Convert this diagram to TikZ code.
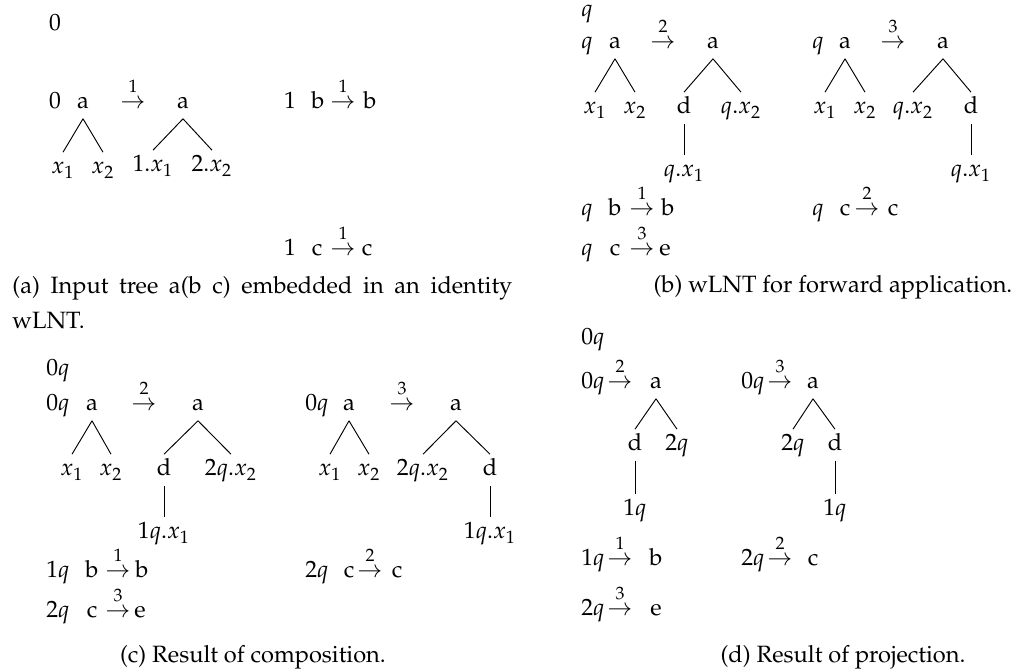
\documentclass[tikz,border=0pt]{standalone}
\usepackage[T1]{fontenc}
\usepackage{mathpazo}

\newcommand{\wto}[1]{\stackrel{\raisebox{1pt}{$\scriptstyle #1$}}{\rightarrow}}

\begin{document}
\begin{tikzpicture}[
    x=0.4237pt, y=-0.4237pt,
    font=\fontsize{10}{12}\selectfont,
    sym/.style={inner sep=1pt, text height=8pt, text depth=3pt},
    edge/.style={draw, line width=0.4pt},
    capt/.style={inner sep=0pt, font=\fontsize{10}{14.8}\selectfont}
]
    \useasboundingbox (0,0) rectangle (1028,670);

    % (a) identity wLNT
    \node[sym] (sA) at (55,25) {0};
    \node[sym] (qA) at (55,103) {0};
    \node[sym] (lA) at (83,103) {a};
    \node[sym] (tA) at (133,103) {$\wto{1}$};
    \node[sym] (rA) at (183,103) {a};
    \node[sym] (lA1) at (63,168) {$x_1$};
    \node[sym] (lA2) at (103,168) {$x_2$};
    \node[sym] (rA1) at (153,166) {$1.x_1$};
    \node[sym] (rA2) at (212,166) {$2.x_2$};
    \node[sym] (qAb) at (290,103) {1};
    \node[sym] (lAb) at (318,103) {b};
    \node[sym] (tAb) at (343,103) {$\wto{1}$};
    \node[sym] (rAb) at (370,103) {b};
    \node[sym] (qAc) at (290,250) {1};
    \node[sym] (lAc) at (317,250) {c};
    \node[sym] (tAc) at (343,250) {$\wto{1}$};
    \node[sym] (rAc) at (367,250) {c};
    \foreach \c in {lA1,lA2}
        \draw[edge] (lA.south) -- (\c.north);
    \foreach \c in {rA1,rA2}
        \draw[edge] (rA.south) -- (\c.north);
    \node[capt, anchor=north west, text width=211.8pt, align=justify] (capA) at (12,276)
        {(a) Input tree a(b c) embedded in an identity\linebreak wLNT.};

    % (b) forward application
    \node[sym] (sB) at (587,11) {$q$};
    \node[sym] (qB) at (587,43) {$q$};
    \node[sym] (lB) at (615,43) {a};
    \node[sym] (tB) at (663,43) {$\wto{2}$};
    \node[sym] (rB) at (713,43) {a};
    \node[sym] (lB1) at (595,108) {$x_1$};
    \node[sym] (lB2) at (635,108) {$x_2$};
    \node[sym] (rB1) at (684,108) {d};
    \node[sym] (rB2) at (741,108) {$q.x_2$};
    \node[sym] (rB11) at (684,171) {$q.x_1$};
    \node[sym] (qC) at (818,43) {$q$};
    \node[sym] (lC) at (845,43) {a};
    \node[sym] (tC) at (893,43) {$\wto{3}$};
    \node[sym] (rC) at (943,43) {a};
    \node[sym] (lC1) at (825,108) {$x_1$};
    \node[sym] (lC2) at (865,108) {$x_2$};
    \node[sym] (rC1) at (913,108) {$q.x_2$};
    \node[sym] (rC2) at (971,108) {d};
    \node[sym] (rC21) at (971,171) {$q.x_1$};
    \node[sym] (qBb) at (587,210) {$q$};
    \node[sym] (lBb) at (615,210) {b};
    \node[sym] (tBb) at (642,210) {$\wto{1}$};
    \node[sym] (rBb) at (668,210) {b};
    \node[sym] (qBc) at (818,210) {$q$};
    \node[sym] (lBc) at (845,210) {c};
    \node[sym] (tBc) at (867,210) {$\wto{2}$};
    \node[sym] (rBc) at (893,210) {c};
    \node[sym] (qBe) at (587,250) {$q$};
    \node[sym] (lBe) at (615,250) {c};
    \node[sym] (tBe) at (642,250) {$\wto{3}$};
    \node[sym] (rBe) at (665,250) {e};
    \foreach \p/\c in {lB/lB1,lB/lB2,rB/rB1,rB/rB2,rB1/rB11,
                       lC/lC1,lC/lC2,rC/rC1,rC/rC2,rC2/rC21}
        \draw[edge] (\p.south) -- (\c.north);
    \node[capt] (capB) at (833,287) {(b) wLNT for forward application.};

    % (c) composition
    \node[sym] (sD) at (58,370) {$0q$};
    \node[sym] (qD) at (58,405) {$0q$};
    \node[sym] (lD) at (92,405) {a};
    \node[sym] (tD) at (144,405) {$\wto{2}$};
    \node[sym] (rD) at (198,405) {a};
    \node[sym] (lD1) at (72,470) {$x_1$};
    \node[sym] (lD2) at (111,470) {$x_2$};
    \node[sym] (rD1) at (164,470) {d};
    \node[sym] (rD2) at (231,470) {$2q.x_2$};
    \node[sym] (rD11) at (164,533) {$1q.x_1$};
    \node[sym] (qE) at (317,405) {$0q$};
    \node[sym] (lE) at (349,405) {a};
    \node[sym] (tE) at (402,405) {$\wto{3}$};
    \node[sym] (rE) at (456,405) {a};
    \node[sym] (lE1) at (330,470) {$x_1$};
    \node[sym] (lE2) at (369,470) {$x_2$};
    \node[sym] (rE1) at (423,470) {$2q.x_2$};
    \node[sym] (rE2) at (490,470) {d};
    \node[sym] (rE21) at (490,533) {$1q.x_1$};
    \node[sym] (qDb) at (58,572) {$1q$};
    \node[sym] (lDb) at (92,572) {b};
    \node[sym] (tDb) at (118,572) {$\wto{1}$};
    \node[sym] (rDb) at (142,572) {b};
    \node[sym] (qDc) at (317,572) {$2q$};
    \node[sym] (lDc) at (349,572) {c};
    \node[sym] (tDc) at (370,572) {$\wto{2}$};
    \node[sym] (rDc) at (397,572) {c};
    \node[sym] (qDe) at (58,612) {$2q$};
    \node[sym] (lDe) at (92,612) {c};
    \node[sym] (tDe) at (118,612) {$\wto{3}$};
    \node[sym] (rDe) at (140,612) {e};
    \foreach \p/\c in {lD/lD1,lD/lD2,rD/rD1,rD/rD2,rD1/rD11,
                       lE/lE1,lE/lE2,rE/rE1,rE/rE2,rE2/rE21}
        \draw[edge] (\p.south) -- (\c.north);
    \node[capt] (capC) at (253,657) {(c) Result of composition.};

    % (d) projection
    \node[sym] (sF) at (593,339) {$0q$};
    \node[sym] (qF) at (593,383) {$0q$};
    \node[sym] (tF) at (620,383) {$\wto{2}$};
    \node[sym] (rF) at (656,383) {a};
    \node[sym] (rF1) at (635,445) {d};
    \node[sym] (rF2) at (677,445) {$2q$};
    \node[sym] (rF11) at (635,510) {$1q$};
    \node[sym] (qG) at (753,383) {$0q$};
    \node[sym] (tG) at (780,383) {$\wto{3}$};
    \node[sym] (rG) at (813,383) {a};
    \node[sym] (rG1) at (793,445) {$2q$};
    \node[sym] (rG2) at (835,445) {d};
    \node[sym] (rG21) at (835,510) {$1q$};
    \node[sym] (qFb) at (593,560) {$1q$};
    \node[sym] (tFb) at (620,560) {$\wto{1}$};
    \node[sym] (rFb) at (656,560) {b};
    \node[sym] (qFc) at (753,560) {$2q$};
    \node[sym] (tFc) at (780,560) {$\wto{2}$};
    \node[sym] (rFc) at (813,560) {c};
    \node[sym] (qFe) at (593,610) {$2q$};
    \node[sym] (tFe) at (620,610) {$\wto{3}$};
    \node[sym] (rFe) at (656,610) {e};
    \foreach \p/\c in {rF/rF1,rF/rF2,rF1/rF11,rG/rG1,rG/rG2,rG2/rG21}
        \draw[edge] (\p.south) -- (\c.north);
    \node[capt] (capD) at (843,657) {(d) Result of projection.};

\end{tikzpicture}
\end{document}
